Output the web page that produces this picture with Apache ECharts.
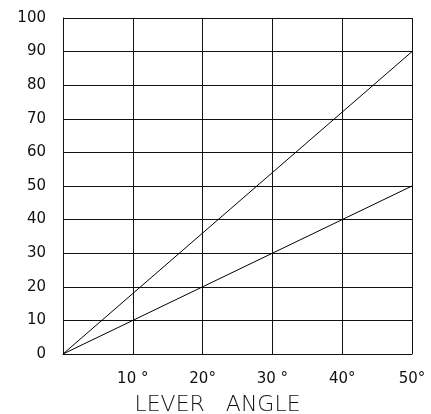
<!DOCTYPE html>
<html><head><meta charset="utf-8">
<script src="https://cdn.jsdelivr.net/npm/echarts@6/dist/echarts.min.js"></script>
<style>html,body{margin:0;padding:0;background:#fff}#c{width:431px;height:414px}</style>
</head><body><div id="c"></div>
<script>
var angles = [0, 50];
var steepLine = [0, 90];
var shallowLine = [0, 50];
var xTickLabels = {10: '10 °', 20: '20°', 30: '30 °', 40: '40°', 50: '50°'};

var chart = echarts.init(document.getElementById('c'));
function pairs(xs, ys){ return xs.map(function(x,i){ return [x, ys[i]]; }); }
chart.setOption({
  animation: false,
  grid: {left: 63, right: 19, top: 18, bottom: 60, containLabel: false, outerBoundsMode: 'none'},
  xAxis: {
    type: 'value', min: 0, max: 50, interval: 10,
    name: 'LEVER   ANGLE', nameLocation: 'middle', nameGap: 40,
    nameTextStyle: {fontFamily: 'DejaVu Sans', fontSize: 22, color: '#111', fontWeight: 'lighter', padding: [0, 40, 0, 0]},
    axisLine: {show: true, lineStyle: {color: '#111', width: 1}},
    axisTick: {show: false},
    splitLine: {show: true, lineStyle: {color: '#111', width: 1}},
    axisLabel: {
      fontFamily: 'DejaVu Sans', fontSize: 15, color: '#111', margin: 18,
      formatter: function(v){ return xTickLabels[v] || ''; }
    }
  },
  yAxis: {
    type: 'value', min: 0, max: 100, interval: 10,
    axisLine: {show: true, lineStyle: {color: '#111', width: 1}},
    axisTick: {show: false},
    splitLine: {show: true, lineStyle: {color: '#111', width: 1}},
    axisLabel: {fontFamily: 'DejaVu Sans', fontSize: 15, color: '#111', margin: 17}
  },
  series: [
    {type: 'line', data: pairs(angles, steepLine), symbol: 'none', lineStyle: {color: '#000', width: 1}},
    {type: 'line', data: pairs(angles, shallowLine), symbol: 'none', lineStyle: {color: '#000', width: 1}}
  ]
});
</script></body></html>
